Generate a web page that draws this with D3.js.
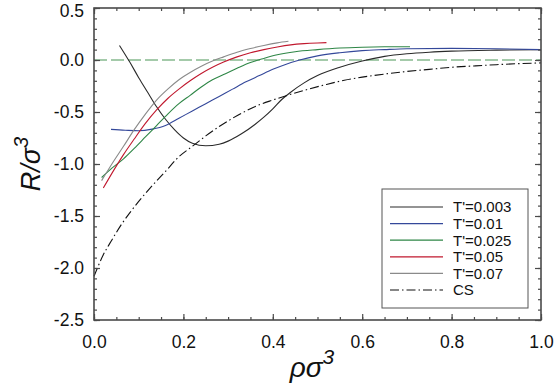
<!DOCTYPE html>
<html><head><meta charset="utf-8">
<script src="https://cdn.jsdelivr.net/npm/d3@7"></script>
<style>
body{margin:0;background:#fff;}
svg{display:block;font-family:"Liberation Sans",Arial,sans-serif;}
</style></head>
<body>
<svg id="c" width="554" height="385"></svg>
<script>
// ---- data ----
const xTicks = [0.0, 0.2, 0.4, 0.6, 0.8, 1.0];
const yTicks = [-2.5, -2.0, -1.5, -1.0, -0.5, 0.0, 0.5];
const seriesNames = ["T'=0.003", "T'=0.01", "T'=0.025", "T'=0.05", "T'=0.07", "CS"];

const t003X = [0.057,0.08,0.10,0.12,0.14,0.16,0.18,0.20,0.22,0.25,0.28,0.30,0.33,0.36,0.38,0.40,0.42,0.44,0.47,0.50,0.55,0.60,0.65,0.70,0.75,0.80,0.90,1.0];
const t003Y = [0.14,-0.02,-0.17,-0.31,-0.45,-0.57,-0.67,-0.75,-0.80,-0.825,-0.81,-0.78,-0.71,-0.62,-0.55,-0.47,-0.38,-0.31,-0.22,-0.15,-0.07,-0.01,0.035,0.06,0.075,0.085,0.095,0.10];

const t01X = [0.038,0.07,0.10,0.13,0.16,0.19,0.22,0.25,0.28,0.31,0.34,0.37,0.40,0.43,0.46,0.50,0.55,0.60,0.65,0.70,0.80,0.90,1.0];
const t01Y = [-0.667,-0.675,-0.68,-0.665,-0.63,-0.56,-0.49,-0.42,-0.35,-0.28,-0.21,-0.15,-0.09,-0.04,0.0,0.04,0.07,0.09,0.10,0.108,0.112,0.108,0.10];

const t025X = [0.017,0.04,0.066,0.09,0.115,0.14,0.165,0.19,0.215,0.24,0.265,0.29,0.32,0.35,0.38,0.41,0.45,0.50,0.55,0.60,0.65,0.707];
const t025Y = [-1.13,-1.04,-0.95,-0.85,-0.74,-0.63,-0.52,-0.42,-0.34,-0.26,-0.19,-0.14,-0.08,-0.025,0.015,0.05,0.08,0.10,0.115,0.123,0.127,0.128];

const t05X = [0.021,0.04,0.066,0.09,0.115,0.14,0.165,0.19,0.215,0.24,0.265,0.29,0.32,0.35,0.38,0.41,0.44,0.47,0.50,0.52];
const t05Y = [-1.23,-1.09,-0.91,-0.76,-0.61,-0.48,-0.37,-0.28,-0.20,-0.13,-0.07,-0.02,0.03,0.07,0.10,0.125,0.145,0.157,0.164,0.167];

const t07X = [0.017,0.04,0.066,0.09,0.115,0.14,0.165,0.19,0.215,0.24,0.265,0.29,0.32,0.35,0.38,0.41,0.435];
const t07Y = [-1.16,-1.00,-0.83,-0.67,-0.52,-0.385,-0.28,-0.19,-0.12,-0.06,-0.01,0.03,0.075,0.11,0.14,0.165,0.18];

const csX = [0,0.02,0.04,0.06,0.08,0.10,0.13,0.16,0.19,0.22,0.25,0.28,0.31,0.34,0.37,0.40,0.44,0.48,0.52,0.56,0.60,0.65,0.70,0.75,0.80,0.85,0.90,0.95,1.0];
const csY = [-2.08,-1.88,-1.73,-1.59,-1.47,-1.36,-1.21,-1.07,-0.93,-0.83,-0.73,-0.64,-0.56,-0.49,-0.43,-0.385,-0.33,-0.28,-0.235,-0.195,-0.165,-0.135,-0.11,-0.09,-0.07,-0.057,-0.045,-0.035,-0.028];

// ---- drawing ----
const svg = d3.select("#c");
const L = 94, R = 541, T = 8, B = 320;
const x = d3.scaleLinear().domain([0,1]).range([L,R]);
const y = d3.scaleLinear().domain([-2.5,0.5]).range([B,T]);

const series = [
  {name:seriesNames[0], xs:t003X, ys:t003Y, color:"#2a2a2a", dash:null},
  {name:seriesNames[1], xs:t01X, ys:t01Y, color:"#34489a", dash:null},
  {name:seriesNames[2], xs:t025X, ys:t025Y, color:"#2e8646", dash:null},
  {name:seriesNames[3], xs:t05X, ys:t05Y, color:"#c0182e", dash:null},
  {name:seriesNames[4], xs:t07X, ys:t07Y, color:"#8a8a8a", dash:null},
  {name:seriesNames[5], xs:csX, ys:csY, color:"#111", dash:"9,3,1.5,3"}
];

// zero dashed line
svg.append("line")
  .attr("x1", x(0)).attr("x2", x(1)).attr("y1", y(0)).attr("y2", y(0))
  .attr("stroke", "#86b98e").attr("stroke-width", 1.3).attr("stroke-dasharray", "13,4");

const line = d3.line().x(d=>x(d[0])).y(d=>y(d[1])).curve(d3.curveMonotoneX);
series.forEach(s=>{
  svg.append("path")
    .datum(s.xs.map((v,i)=>[v, s.ys[i]]))
    .attr("d", line).attr("fill","none")
    .attr("stroke", s.color).attr("stroke-width", 1.1)
    .attr("stroke-dasharray", s.dash);
});

// axes
const fmt = d => d.toFixed(1);
const axColor = "#4a4a4a";
function styleAxis(g){
  g.select(".domain").remove();
  g.selectAll(".tick line").attr("stroke", axColor).attr("stroke-width",1.2);
  g.selectAll(".tick text").attr("fill","#111").style("font-size","17.5px").style("font-family","'Liberation Sans',Arial,sans-serif");
}
const xMinor = d3.range(0, 1.0001, 0.05);
const yMinor = d3.range(-2.5, 0.5001, 0.1);

// bottom
svg.append("g").attr("transform",`translate(0,${B})`)
  .call(d3.axisBottom(x).tickValues(xMinor).tickSize(-3).tickFormat(""))
  .call(styleAxis);
svg.append("g").attr("transform",`translate(0,${B})`)
  .call(d3.axisBottom(x).tickValues(xTicks).tickSize(-6).tickPadding(16).tickFormat(fmt))
  .call(styleAxis);
// top
svg.append("g").attr("transform",`translate(0,${T})`)
  .call(d3.axisTop(x).tickValues(xMinor).tickSize(-3).tickFormat(""))
  .call(styleAxis);
svg.append("g").attr("transform",`translate(0,${T})`)
  .call(d3.axisTop(x).tickValues(xTicks).tickSize(-6).tickFormat(""))
  .call(styleAxis);
// left
svg.append("g").attr("transform",`translate(${L},0)`)
  .call(d3.axisLeft(y).tickValues(yMinor).tickSize(-3).tickFormat(""))
  .call(styleAxis);
const yAx = svg.append("g").attr("transform",`translate(${L},0)`)
  .call(d3.axisLeft(y).tickValues(yTicks).tickSize(-6).tickPadding(10).tickFormat(fmt))
  .call(styleAxis);
yAx.selectAll(".tick text").filter(d => d === 0.5).attr("y", 2.5);
// right
svg.append("g").attr("transform",`translate(${R},0)`)
  .call(d3.axisRight(y).tickValues(yMinor).tickSize(-3).tickFormat(""))
  .call(styleAxis);
svg.append("g").attr("transform",`translate(${R},0)`)
  .call(d3.axisRight(y).tickValues(yTicks).tickSize(-6).tickFormat(""))
  .call(styleAxis);

// frame
svg.append("rect").attr("x",L).attr("y",T).attr("width",R-L).attr("height",B-T)
  .attr("fill","none").attr("stroke",axColor).attr("stroke-width",1.6);

// axis titles
const xt = svg.append("text").attr("x", 312).attr("y", 377).attr("text-anchor","middle")
  .style("font-size","28px").style("font-style","italic").attr("fill","#111");
xt.append("tspan").text("ρσ");
xt.append("tspan").attr("dy",-13).style("font-size","21px").text("3");

const yt = svg.append("text").attr("transform","translate(40,164) rotate(-90)").attr("text-anchor","middle")
  .style("font-size","27px").style("font-style","italic").attr("fill","#111");
yt.append("tspan").text("R/σ");
yt.append("tspan").attr("dy",-12).style("font-size","20px").text("3");

// legend
const lg = svg.append("g");
lg.append("rect").attr("x",382).attr("y",189).attr("width",146).attr("height",119)
  .attr("fill","#fff").attr("stroke","#555").attr("stroke-width",1);
series.forEach((s,i)=>{
  const yy = 207 + i*16.6;
  lg.append("line").attr("x1",390).attr("x2",443).attr("y1",yy).attr("y2",yy)
    .attr("stroke", s.color).attr("stroke-width",1.2).attr("stroke-dasharray", s.dash);
  lg.append("text").attr("x",453).attr("y",yy).attr("dy","0.36em")
    .style("font-size","15px").attr("fill","#111").text(s.name);
});
</script>
</body></html>
